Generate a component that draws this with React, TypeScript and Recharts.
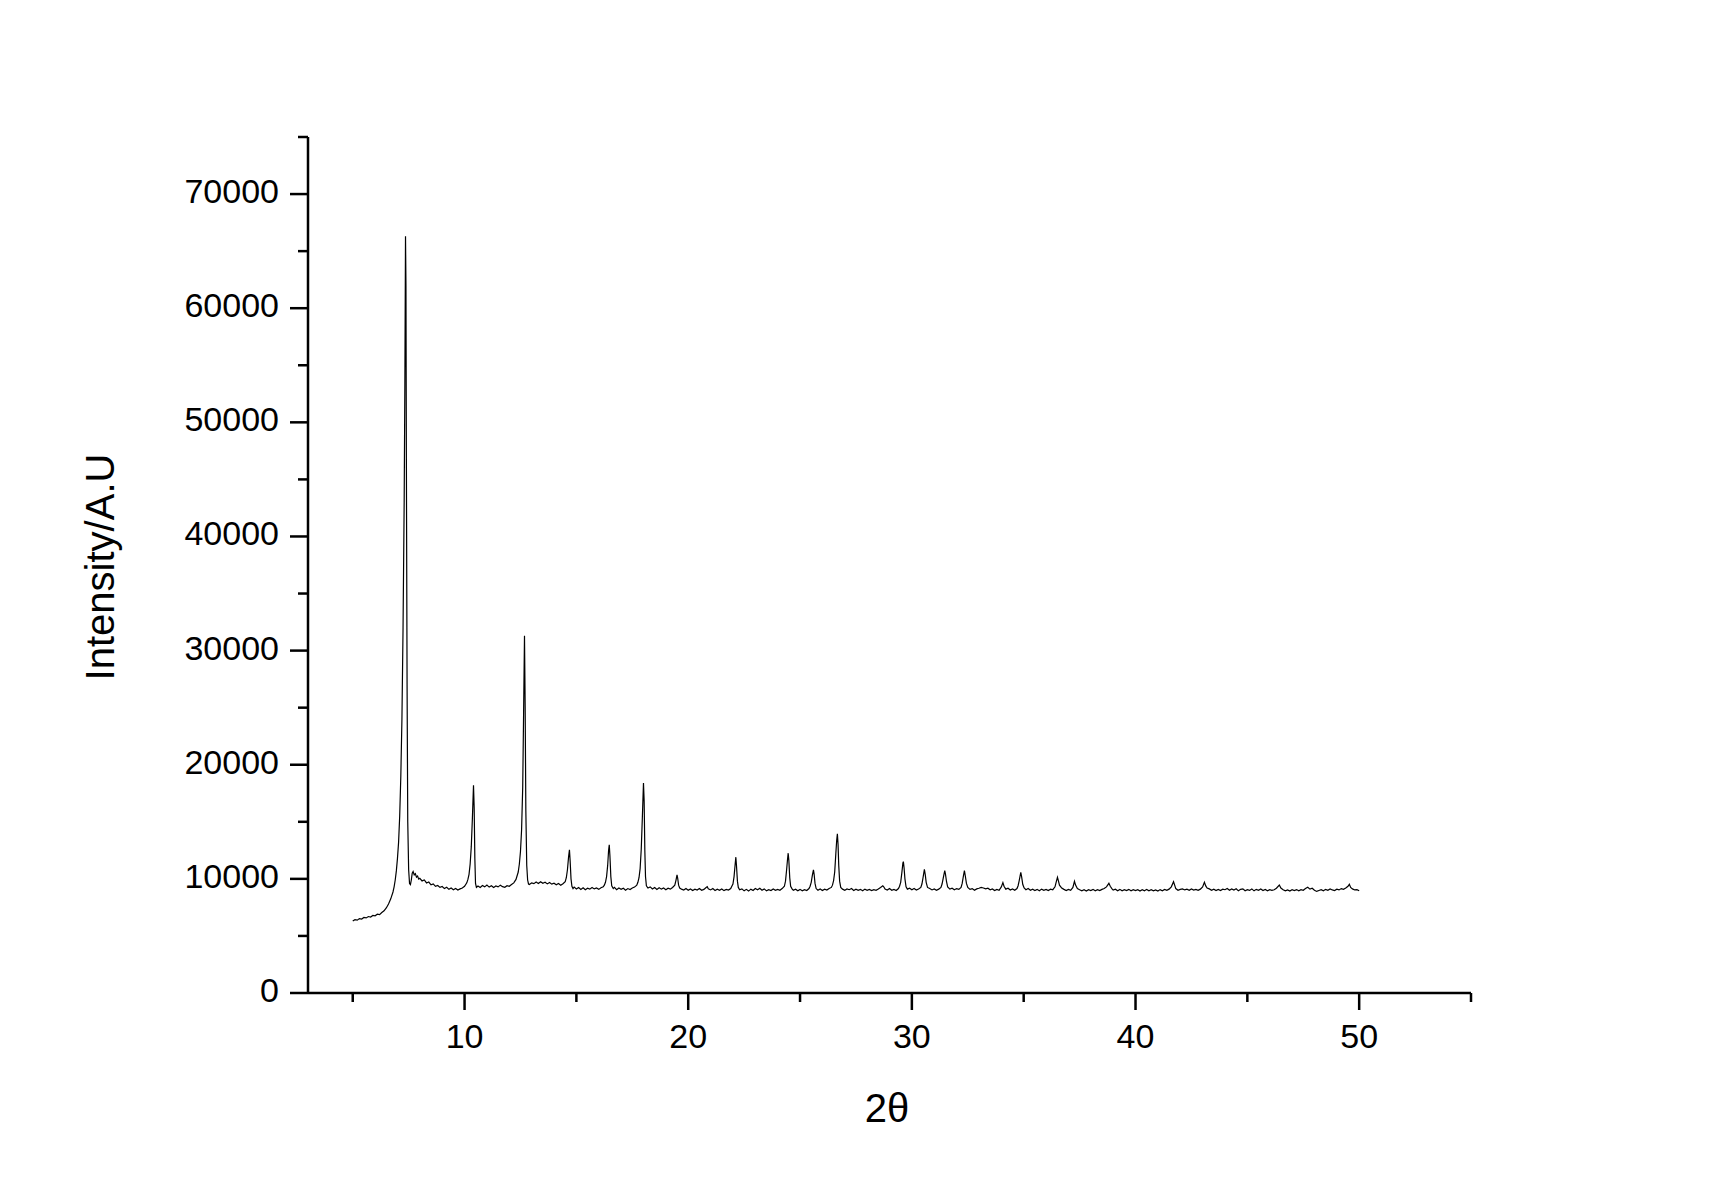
import React from "react";
import { LineChart, Line, XAxis, YAxis } from "recharts";

// XRD pattern, [2θ, intensity]
const lowAngle: [number, number][] = [
  [5.0, 6300], [5.1, 6420], [5.2, 6380], [5.3, 6520], [5.4, 6480], [5.5, 6620], [5.6, 6580], [5.7, 6700],
  [5.8, 6660], [5.9, 6800], [6.0, 6760], [6.1, 6900], [6.2, 6870], [6.3, 7050], [6.4, 7200], [6.5, 7450],
  [6.6, 7800], [6.7, 8250], [6.8, 8850], [6.85, 9300], [6.9, 9900], [6.95, 10700], [7.0, 11800], [7.05, 13200],
  [7.1, 15500], [7.15, 19000], [7.2, 24000], [7.25, 32000], [7.3, 43000], [7.33, 53000], [7.36, 66300],
  [7.38, 62000], [7.4, 46000], [7.43, 27000], [7.46, 15000], [7.5, 10800], [7.54, 9600], [7.58, 9500],
  [7.62, 9900], [7.66, 10500], [7.7, 10650], [7.75, 10350], [7.8, 10450], [7.85, 10150], [7.9, 10250],
  [7.95, 9980], [8.0, 10050], [8.1, 9820], [8.2, 9900], [8.3, 9640], [8.4, 9720], [8.5, 9480], [8.6, 9560],
  [8.7, 9350], [8.8, 9420], [8.9, 9250], [9.0, 9330], [9.1, 9150], [9.2, 9260], [9.3, 9080], [9.4, 9200],
  [9.5, 9050], [9.6, 9150], [9.7, 9020], [9.8, 9120], [9.9, 9200], [10.0, 9350], [10.1, 9650], [10.15, 9950],
  [10.2, 10400], [10.25, 11300], [10.3, 12800], [10.35, 15300], [10.4, 18200], [10.43, 16200], [10.46, 11800],
  [10.49, 9600], [10.53, 9250], [10.6, 9380],
];

const midAngle: [number, number][] = [
  [10.7, 9250], [10.8, 9420], [10.9, 9300], [11.0, 9450], [11.1, 9280], [11.2, 9400], [11.3, 9250], [11.4, 9380],
  [11.5, 9300], [11.6, 9450], [11.7, 9320], [11.8, 9260], [11.9, 9400], [12.0, 9350], [12.1, 9500], [12.2, 9650],
  [12.3, 9950], [12.4, 10600], [12.45, 11300], [12.5, 12400], [12.55, 14300], [12.6, 18000], [12.64, 24500],
  [12.68, 31300], [12.71, 25000], [12.74, 16000], [12.78, 11200], [12.82, 9900], [12.86, 9550], [12.9, 9500],
  [13.0, 9650], [13.1, 9580], [13.2, 9720], [13.3, 9600], [13.4, 9750], [13.5, 9620], [13.6, 9700], [13.7, 9560],
  [13.8, 9680], [13.9, 9540], [14.0, 9620], [14.1, 9480], [14.2, 9600], [14.3, 9450], [14.4, 9580], [14.5, 9750],
  [14.55, 10100], [14.6, 10800], [14.65, 11900], [14.69, 12550], [14.72, 11600], [14.76, 10000], [14.8, 9350],
  [14.85, 9150], [14.9, 9280], [15.0, 9120], [15.1, 9250], [15.2, 9080], [15.3, 9220], [15.4, 9050], [15.5, 9180],
  [15.6, 9100], [15.7, 9250], [15.8, 9120], [15.9, 9200], [16.0, 9080], [16.1, 9220], [16.2, 9300], [16.25, 9450],
  [16.3, 9700], [16.35, 10200], [16.4, 11200], [16.44, 12500], [16.47, 12980], [16.5, 12000], [16.54, 10200],
  [16.58, 9400], [16.65, 9150], [16.7, 9250], [16.8, 9050], [16.9, 9200], [17.0, 9080], [17.1, 9180], [17.2, 9000],
  [17.3, 9150], [17.4, 9070], [17.5, 9200], [17.6, 9280], [17.7, 9450], [17.75, 9700], [17.8, 10100], [17.85, 10900],
  [17.9, 12600], [17.95, 15400], [18.0, 18400], [18.03, 16800], [18.06, 12500], [18.09, 10200], [18.13, 9400],
  [18.2, 9200], [18.3, 9300], [18.4, 9120], [18.5, 9250], [18.6, 9080], [18.7, 9220], [18.8, 9100], [18.9, 9200],
  [19.0, 9050], [19.1, 9180], [19.2, 9100], [19.3, 9250], [19.4, 9450], [19.45, 9850], [19.5, 10340], [19.53, 10050],
  [19.57, 9450], [19.62, 9200], [19.7, 9100], [19.8, 9020], [19.9, 9150], [20.0, 9000],
];

const upperAngle: [number, number][] = [
  [20.1, 9120], [20.2, 8980], [20.3, 9100], [20.4, 9020], [20.5, 9150], [20.6, 9000], [20.7, 9080], [20.8, 9250],
  [20.85, 9320], [20.9, 9120], [21.0, 9030], [21.1, 9150], [21.2, 8980], [21.3, 9100], [21.4, 9000], [21.5, 9120],
  [21.6, 8970], [21.7, 9080], [21.8, 9020], [21.9, 9150], [21.95, 9350], [22.0, 9550], [22.05, 10200], [22.1, 11300],
  [22.13, 11900], [22.16, 11100], [22.2, 9800], [22.24, 9250], [22.3, 9050], [22.4, 9120], [22.5, 8950], [22.6, 9080],
  [22.7, 8930], [22.8, 9100], [22.9, 8980], [23.0, 9150], [23.1, 9050], [23.2, 9180], [23.3, 9000], [23.4, 9120],
  [23.5, 8950], [23.6, 9050], [23.7, 8980], [23.8, 9120], [23.9, 9000], [24.0, 9080], [24.1, 9000], [24.2, 9150],
  [24.3, 9350], [24.35, 9800], [24.4, 10800], [24.44, 11700], [24.47, 12250], [24.5, 11600], [24.54, 10100],
  [24.58, 9350], [24.65, 9100], [24.7, 9000], [24.8, 9100], [24.9, 8960], [25.0, 9080], [25.1, 8950], [25.2, 9050],
  [25.3, 8980], [25.4, 9150], [25.45, 9350], [25.5, 9700], [25.55, 10300], [25.6, 10780], [25.63, 10400],
  [25.67, 9600], [25.72, 9150], [25.8, 9000], [25.9, 9120], [26.0, 8980], [26.1, 9100], [26.2, 9020], [26.3, 9150],
  [26.4, 9250], [26.45, 9450], [26.5, 9850], [26.55, 10600], [26.6, 12200], [26.64, 13400], [26.67, 13940],
  [26.7, 13000], [26.73, 11200], [26.77, 9800], [26.82, 9250], [26.9, 9100], [27.0, 9000], [27.1, 9120], [27.2, 9050],
  [27.3, 9150], [27.4, 8980], [27.5, 9100], [27.6, 9000], [27.7, 9080], [27.8, 8950], [27.9, 9100], [28.0, 9000],
  [28.1, 9080], [28.2, 8980], [28.3, 9050], [28.4, 9000], [28.5, 9120], [28.6, 9250], [28.7, 9400], [28.75, 9280],
  [28.8, 9100], [28.9, 9020], [29.0, 9150], [29.1, 9000], [29.2, 9080], [29.3, 8980], [29.4, 9150], [29.45, 9350],
  [29.5, 9700], [29.55, 10500], [29.6, 11400], [29.62, 11510], [29.65, 11000], [29.69, 10000], [29.74, 9300],
  [29.8, 9100], [29.9, 9180], [30.0, 9050],
];

const highAngle: [number, number][] = [
  [30.1, 9150], [30.2, 9020], [30.3, 9120], [30.4, 9250], [30.45, 9550], [30.5, 10100], [30.56, 10840], [30.6, 10350],
  [30.64, 9700], [30.7, 9250], [30.8, 9150], [30.9, 9030], [31.0, 9120], [31.1, 9000], [31.2, 9100], [31.3, 9250],
  [31.35, 9550], [31.4, 10050], [31.47, 10720], [31.5, 10450], [31.55, 9750], [31.6, 9300], [31.7, 9100], [31.8, 9180],
  [31.9, 9050], [32.0, 9150], [32.1, 9080], [32.2, 9250], [32.25, 9600], [32.3, 10200], [32.35, 10720], [32.39, 10250],
  [32.44, 9600], [32.5, 9250], [32.6, 9080], [32.7, 9150], [32.8, 9000], [32.9, 9120], [33.0, 9180], [33.1, 9250],
  [33.2, 9200], [33.3, 9120], [33.4, 9180], [33.5, 9050], [33.6, 9120], [33.7, 8980], [33.8, 9080], [33.9, 9000],
  [34.0, 9300], [34.07, 9670], [34.12, 9350], [34.2, 9100], [34.3, 9180], [34.4, 9020], [34.5, 9120], [34.6, 9000],
  [34.7, 9150], [34.75, 9400], [34.8, 9850], [34.87, 10580], [34.91, 10150], [34.96, 9500], [35.02, 9200], [35.1, 9050],
  [35.2, 9150], [35.3, 9000], [35.4, 9100], [35.5, 8980], [35.6, 9080], [35.7, 8950], [35.8, 9100], [35.9, 9000],
  [36.0, 9080], [36.1, 8980], [36.2, 9100], [36.3, 9050], [36.4, 9300], [36.45, 9700], [36.51, 10140], [36.55, 9850],
  [36.6, 9450], [36.7, 9200], [36.8, 9080], [36.9, 8980], [37.0, 9080], [37.1, 9000], [37.2, 9250], [37.27, 9790],
  [37.32, 9450], [37.4, 9150], [37.5, 9050], [37.6, 8950], [37.7, 9050], [37.8, 8930], [37.9, 9050], [38.0, 8980],
  [38.1, 9080], [38.2, 8950], [38.3, 9050], [38.4, 8970], [38.5, 9080], [38.6, 9150], [38.7, 9300], [38.81, 9610],
  [38.87, 9350], [38.95, 9120], [39.0, 9020], [39.1, 9100], [39.2, 8960], [39.3, 9080], [39.4, 8950], [39.5, 9050],
  [39.6, 8970], [39.7, 9080], [39.8, 8950], [39.9, 9050], [40.0, 8980],
  [40.1, 9050], [40.2, 8930], [40.3, 9050], [40.4, 8950], [40.5, 9080], [40.6, 8960], [40.7, 9050], [40.8, 8950],
  [40.9, 9030], [41.0, 8940], [41.1, 9060], [41.2, 8960], [41.3, 9080], [41.4, 9000], [41.5, 9100], [41.6, 9300],
  [41.7, 9750], [41.75, 9450], [41.8, 9150], [41.9, 9000], [42.0, 9080], [42.1, 9120], [42.2, 9030], [42.3, 9100],
  [42.4, 9000], [42.5, 9120], [42.6, 9020], [42.7, 9080], [42.8, 9000], [42.9, 9100], [43.0, 9300], [43.08, 9700],
  [43.14, 9380], [43.2, 9200], [43.3, 9120], [43.4, 9000], [43.5, 9100], [43.6, 8980], [43.7, 9080], [43.8, 8980],
  [43.9, 9100], [44.0, 9050], [44.1, 9150], [44.2, 9000], [44.3, 9120], [44.4, 9020], [44.5, 9130], [44.6, 8950],
  [44.7, 9080], [44.8, 9130], [44.9, 8960], [45.0, 9060], [45.1, 8990], [45.2, 9120], [45.3, 8950], [45.4, 9080],
  [45.5, 9000], [45.6, 9120], [45.7, 8980], [45.8, 9070], [45.9, 8960], [46.0, 9050], [46.1, 8990], [46.2, 9050],
  [46.3, 9180], [46.43, 9460], [46.5, 9200], [46.6, 9050], [46.7, 8950], [46.8, 9030], [46.9, 8940], [47.0, 9050],
  [47.1, 8980], [47.2, 9060], [47.3, 8950], [47.4, 9050], [47.5, 9000], [47.6, 9150], [47.7, 9260], [47.8, 9100],
  [47.9, 9180], [48.0, 9000], [48.1, 8900], [48.2, 8980], [48.3, 9050], [48.4, 8950], [48.5, 9080], [48.6, 9000],
  [48.7, 9120], [48.8, 9030], [48.9, 8980], [49.0, 9100], [49.1, 9030], [49.2, 9150], [49.3, 9080], [49.4, 9200],
  [49.5, 9350], [49.56, 9520], [49.62, 9250], [49.7, 9120], [49.8, 9030], [49.9, 9060], [50.0, 8960],
];

const xTicks = [5, 10, 15, 20, 25, 30, 35, 40, 45, 50, 55];
const yTicks = [0, 5000, 10000, 15000, 20000, 25000, 30000, 35000, 40000, 45000, 50000, 55000, 60000, 65000, 70000, 75000];

const data = [...lowAngle, ...midAngle, ...upperAngle, ...highAngle].map(([x, y]) => ({ x, y }));

const FONT = "'Liberation Sans', Arial, Helvetica, sans-serif";

const YTick = ({ x, y, payload }: any) => {
  const major = payload.value % 10000 === 0;
  const len = major ? 18 : 10;
  return (
    <g>
      <line x1={x - len} y1={y} x2={x} y2={y} stroke="#000" strokeWidth={2.5} />
      {major && (
        <text x={x - 29} y={y + 9} textAnchor="end" fontSize={34} fontFamily={FONT} fill="#000">
          {payload.value}
        </text>
      )}
    </g>
  );
};

const XTick = ({ x, y, payload }: any) => {
  const major = payload.value % 10 === 0;
  const len = major ? 17 : 9;
  return (
    <g>
      <line x1={x} y1={y} x2={x} y2={y + len} stroke="#000" strokeWidth={2.5} />
      {major && (
        <text x={x} y={y + 55} textAnchor="middle" fontSize={34} fontFamily={FONT} fill="#000">
          {payload.value}
        </text>
      )}
    </g>
  );
};

const YTitle = (props: any) => {
  const vb = props.viewBox || {};
  const cx = 106;
  const cy = (vb.y ?? 129) + (vb.height ?? 856) / 2 + 2;
  return (
    <text x={cx} y={cy} transform={`rotate(-90 ${cx} ${cy})`} textAnchor="middle" fontSize={40} fontFamily={FONT} fill="#000">
      Intensity/A.U
    </text>
  );
};

const XTitle = () => (
  <text x={879} y={1114} textAnchor="middle" fontSize={40} fontFamily={FONT} fill="#000">
    2θ
  </text>
);

export default function App() {
  return (
    <div style={{ width: 1694, height: 1175, background: "#fff", fontFamily: FONT }}>
      <LineChart width={1694} height={1175} data={data} margin={{ top: 129, right: 231, bottom: 60, left: 0 }}>
        <XAxis
          dataKey="x"
          type="number"
          domain={[3, 55]}
          ticks={xTicks}
          interval={0}
          height={130}
          tickSize={0}
          tickMargin={0}
          tickLine={false}
          tick={XTick}
          axisLine={{ stroke: "#000", strokeWidth: 2.5 }}
          label={{ content: XTitle }}
          allowDataOverflow
        />
        <YAxis
          type="number"
          domain={[0, 75000]}
          ticks={yTicks}
          interval={0}
          width={300}
          tickSize={0}
          tickMargin={0}
          tickLine={false}
          tick={YTick}
          axisLine={{ stroke: "#000", strokeWidth: 2.5 }}
          label={{ content: YTitle }}
          allowDataOverflow
        />
        <Line
          type="linear"
          dataKey="y"
          stroke="#000"
          strokeWidth={1.2}
          dot={false}
          isAnimationActive={false}
        />
      </LineChart>
    </div>
  );
}
